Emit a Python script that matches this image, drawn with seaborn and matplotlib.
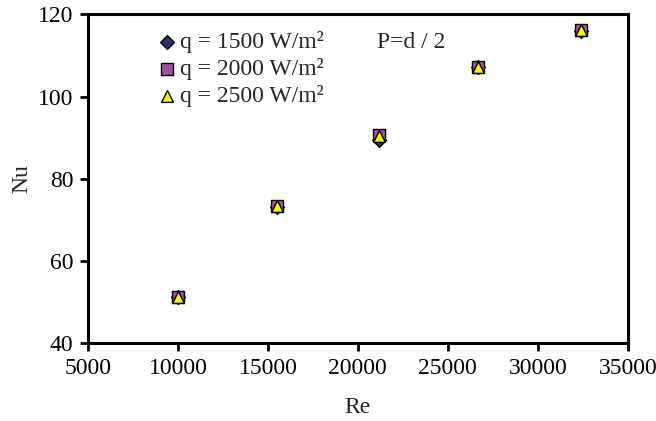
import matplotlib
matplotlib.use("Agg")
import matplotlib.pyplot as plt
import seaborn as sns
import pandas as pd

re_vals = [10000, 15500, 21200, 26700, 32400]
nu_1500 = [51.2, 73.2, 89.4, 107.2, 116.0]
nu_2000 = [51.3, 73.4, 90.6, 107.3, 116.2]
nu_2500 = [51.2, 73.4, 90.3, 107.2, 116.1]
labels = ["q = 1500 W/m²", "q = 2000 W/m²", "q = 2500 W/m²"]
x_ticks = [5000, 10000, 15000, 20000, 25000, 30000, 35000]
y_ticks = [40, 60, 80, 100, 120]

sns.set_style("white")
plt.rcParams['font.family'] = ['Liberation Serif', 'DejaVu Serif']

fig = plt.figure(figsize=(6.56, 4.21), dpi=100)
ax = fig.add_axes([0.134, 0.185, 0.823, 0.781])

series = [
    (nu_1500, labels[0], "D", "#2f2f6b", 7),
    (nu_2000, labels[1], "s", "#a050a8", 8),
    (nu_2500, labels[2], "^", "#f5f500", 8.5),
]
for nu, lab, mk, col, ms in series:
    df = pd.DataFrame({"Re": re_vals, "Nu": nu})
    sns.scatterplot(data=df, x="Re", y="Nu", ax=ax, marker=mk, color=col,
                    s=ms**2, edgecolor="black", linewidth=1.0, label=lab, zorder=3)

ax.set_xlim(5000, 35000)
ax.set_ylim(40, 120)
ax.set_xticks(x_ticks)
ax.set_yticks(y_ticks)
ax.set_xticklabels([str(t) for t in x_ticks])
ax.tick_params(axis="both", direction="out", length=6, width=2, labelsize=17,
               pad=4.5, bottom=True, left=True, colors="black")
for sp in ax.spines.values():
    sp.set_linewidth(2.2)
    sp.set_color("black")
ax.set_xlabel("Re", fontsize=17, labelpad=13)
ax.set_ylabel("Nu", fontsize=17, labelpad=4)

leg = ax.legend(loc="upper left", bbox_to_anchor=(0.133, 0.95), frameon=False,
                fontsize=17, handletextpad=0.25, labelspacing=0.22, borderaxespad=0,
                borderpad=0, handlelength=0.6)
ax.text(0.535, 0.915, "P=d / 2", transform=ax.transAxes, fontsize=17, va="center")

fig.savefig("out.png", dpi=100)
